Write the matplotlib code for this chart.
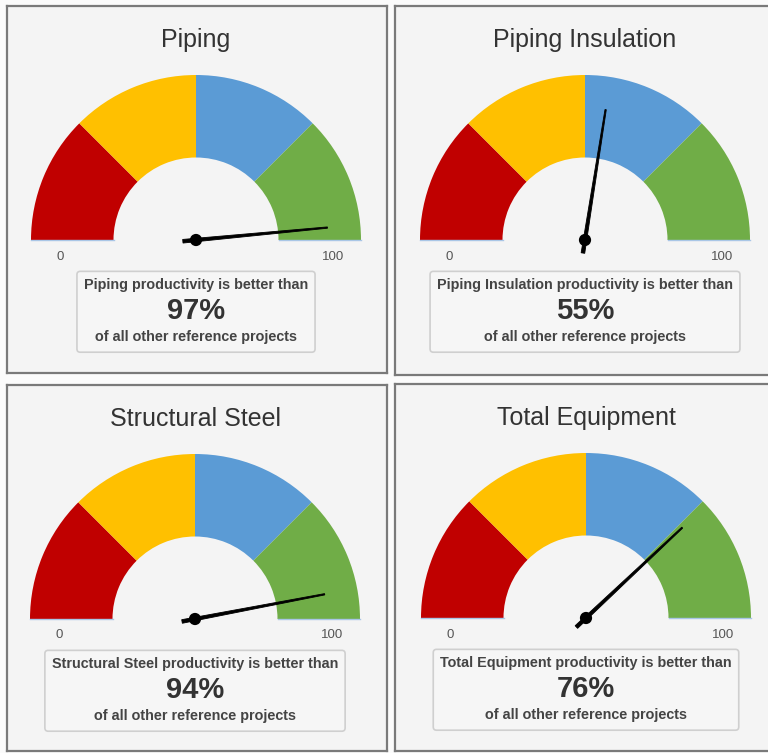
import numpy as np
import matplotlib
matplotlib.use('Agg')
import matplotlib.pyplot as plt
from matplotlib.patches import Wedge, Polygon, Circle, FancyBboxPatch

titles = ['Piping', 'Piping Insulation', 'Structural Steel', 'Total Equipment']
scores = [97, 55, 94, 76]
band_edges = [0, 25, 50, 75, 100]
band_colors = ['#c00000', '#ffc000', '#5b9bd5', '#70ad47']
scale_min, scale_max = 0, 100

W, H = 768, 753
R = 165.0  # outer radius in pixels
# panel rectangles (x0, y0, x1, y1) and gauge centre, in pixels from top-left
panels = [(7, 6, 387, 373), (395, 6, 772, 375), (7, 385, 387, 751), (395, 384, 772, 751)]
centres = [(196, 240), (585, 240), (195, 619), (586, 618)]

plt.rcParams['font.family'] = ['Liberation Sans', 'DejaVu Sans']
fig = plt.figure(figsize=(W / 100, H / 100), dpi=100, facecolor='#fbfbfb')


def val2ang(v):
    return 180.0 - 180.0 * (v - scale_min) / (scale_max - scale_min)


for title, score, (x0, y0, x1, y1), (cx, cy) in zip(titles, scores, panels, centres):
    ax = fig.add_axes([x0 / W, 1 - y1 / H, (x1 - x0) / W, (y1 - y0) / H])
    ax.set_xlim((x0 - cx) / R, (x1 - cx) / R)
    ax.set_ylim((cy - y1) / R, (cy - y0) / R)
    ax.set_facecolor('#f4f4f4')
    ax.set_xticks([])
    ax.set_yticks([])
    for s in ax.spines.values():
        s.set_color('#7a7a7a')
        s.set_linewidth(1.6)

    # coloured bands
    for lo, hi, c in zip(band_edges[:-1], band_edges[1:], band_colors):
        ax.add_patch(Wedge((0, 0), 1.0, val2ang(hi), val2ang(lo), width=0.5,
                           facecolor=c, edgecolor='none'))
    # faint baseline under the end bands
    ax.plot([-1.0, -0.5], [0, 0], color='#a9c6e6', lw=1, zorder=1)
    ax.plot([0.5, 1.0], [0, 0], color='#a9c6e6', lw=1, zorder=1)

    # needle
    a = np.deg2rad(val2ang(score))
    d = np.array([np.cos(a), np.sin(a)])
    n = np.array([-np.sin(a), np.cos(a)])
    tip = d * 0.80
    tail = -d * 0.08
    needle = Polygon([tail + n * 0.011, tip + n * 0.004, tip - n * 0.004, tail - n * 0.011],
                     closed=True, facecolor='black', edgecolor='black', lw=0.6, zorder=5)
    ax.add_patch(needle)
    ax.add_patch(Circle((0, 0), 0.037, facecolor='black', zorder=6))

    ax.text(0, 1.215, title, ha='center', va='center', fontsize=18, color='#333333')
    ax.text(-0.825, -0.10, str(scale_min), ha='center', va='center', fontsize=9.5, color='#555555')
    ax.text(0.83, -0.10, str(scale_max), ha='center', va='center', fontsize=9.5, color='#555555')

    t1 = ax.text(0, -0.27, f'{title} productivity is better than', ha='center', va='center',
                 fontsize=10.4, fontweight='bold', color='#444444', zorder=4)
    ax.text(0, -0.43, f'{score}%', ha='center', va='center', fontsize=21,
            fontweight='bold', color='#333333', zorder=4)
    ax.text(0, -0.59, 'of all other reference projects', ha='center', va='center',
            fontsize=10.4, fontweight='bold', color='#444444', zorder=4)

    fig.canvas.draw()
    bb = t1.get_window_extent().transformed(ax.transData.inverted())
    pad = 0.042
    ax.add_patch(FancyBboxPatch((bb.x0 - pad, -0.68), bb.width + 2 * pad, 0.49,
                                boxstyle='round,pad=0,rounding_size=0.02',
                                facecolor='#f6f6f6', edgecolor='#cfcfcf', lw=1.2, zorder=3))

fig.savefig('out.png', dpi=100, facecolor=fig.get_facecolor())
